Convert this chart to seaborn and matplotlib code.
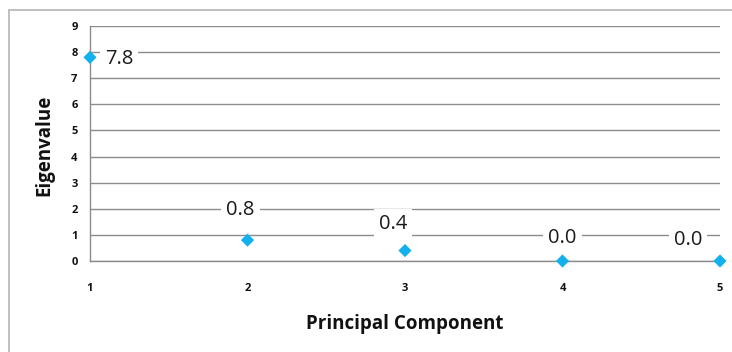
import matplotlib
matplotlib.use("Agg")
import matplotlib.pyplot as plt
from matplotlib.lines import Line2D
import seaborn as sns
import pandas as pd

# Scree data: eigenvalue of each principal component
components = [1, 2, 3, 4, 5]
eigenvalues = [7.8, 0.8, 0.4, 0.0, 0.0]
value_labels = ["7.8", "0.8", "0.4", "0.0", "0.0"]
# label offsets from each marker, in pixels
label_offsets = [(29, -2), (-7, 30), (-12, 27), (0, 23), (-32, 21)]
y_ticks = list(range(0, 10))
x_ticks = [1, 2, 3, 4, 5]

sns.set_theme(style="white")
plt.rcParams["font.family"] = ["Open Sans", "DejaVu Sans"]

df = pd.DataFrame({"Principal Component": components, "Eigenvalue": eigenvalues})

fig = plt.figure(figsize=(7.32, 3.52), dpi=100)
ax = fig.add_axes([90 / 732, 1 - 261 / 352, 630 / 732, 235 / 352])

grid_color = "#8c8c8c"
ax.set_xlim(1, 5)
ax.set_ylim(0, 9)
ax.set_yticks(y_ticks)
ax.set_xticks(x_ticks)
ax.yaxis.grid(True, color=grid_color, linewidth=1.0)
ax.set_axisbelow(True)

sns.scatterplot(data=df, x="Principal Component", y="Eigenvalue", ax=ax,
                marker="D", s=45, color="#12b0ec", edgecolor="none",
                zorder=5, clip_on=False, legend=False)

for x, y, lab, (dx, dy) in zip(components, eigenvalues, value_labels, label_offsets):
    ax.annotate(lab, (x, y), xytext=(dx, dy), textcoords="offset pixels",
                ha="center", va="center", fontsize=14.5, color="#1a1a1a",
                bbox=dict(boxstyle="square,pad=0.25", fc="white", ec="none"),
                zorder=6, annotation_clip=False)

for side in ["top", "right"]:
    ax.spines[side].set_visible(False)
for side in ["left", "bottom"]:
    ax.spines[side].set_color(grid_color)
    ax.spines[side].set_linewidth(1.0)

ax.tick_params(axis="both", which="both", direction="out", length=4, width=1,
               color=grid_color, labelsize=8, labelcolor="#111111")
ax.tick_params(axis="x", pad=12)
ax.tick_params(axis="y", pad=5)
for t in ax.get_xticklabels() + ax.get_yticklabels():
    t.set_fontweight("bold")

ax.set_xlabel("Principal Component", fontsize=13.5, fontweight="bold",
              color="#111111")
ax.set_ylabel("Eigenvalue", fontsize=13.5, fontweight="bold",
              color="#111111")
ax.xaxis.set_label_coords((405 - 90) / 630, -(314 - 261) / 235)
ax.yaxis.set_label_coords(-(90 - 54) / 630, (261 - 145) / 235)

# chart area frame (top and left edges)
border = "#b4b4b4"
fig.add_artist(Line2D([8.5 / 732, 1.0], [1 - 9.5 / 352] * 2,
                      transform=fig.transFigure, color=border, linewidth=1.2))
fig.add_artist(Line2D([8.5 / 732] * 2, [0.0, 1 - 9.5 / 352],
                      transform=fig.transFigure, color=border, linewidth=1.2))

fig.savefig("out.png", dpi=100, facecolor="white")
